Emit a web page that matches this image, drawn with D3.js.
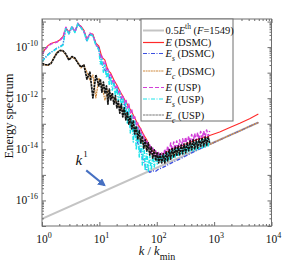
<!DOCTYPE html>
<html>
<head>
<meta charset="utf-8">
<script src="https://cdn.jsdelivr.net/npm/d3@7"></script>
<style>
  body { margin: 0; background: #fff; }
  svg text { font-family: "Liberation Serif", "Times New Roman", serif; fill: #111; }
</style>
</head>
<body>
<svg id="chart" width="301" height="266"></svg>
<script>
// k / kmin bins (DSMC, coarse)
const kBins = [1, 1.13, 1.27, 1.43, 1.62, 1.82, 2.06, 2.32, 2.61, 2.95, 3.33, 3.75, 4.23, 4.77, 5.38, 6.06, 6.84, 7.71, 8.69, 9.8,
  11.05, 12.5, 14.1, 15.8, 17.9, 20.2, 22.7, 25.6, 28.9, 32.6, 36.7, 41.4, 46.7, 52.7, 59.4, 67, 75.5, 85.2, 96.1, 108,
  122, 138, 155, 175, 198, 223, 251, 283, 319, 360, 406, 458, 516, 582, 657, 740, 835];
// DSMC goes further in k
const kTail = [1250, 1880, 2800, 4150, 5900];
const kDSMC = kBins.concat(kTail);
// USP: finer bins from k = 9.8 on
const kFine = [9.8, 10.4, 11.05, 11.75, 12.5, 13.3, 14.1, 14.9, 15.8, 16.8, 17.9, 19.0, 20.2, 21.4, 22.7, 24.1, 25.6, 27.2, 28.9, 30.7,
  32.6, 34.6, 36.7, 39.0, 41.4, 44.0, 46.7, 49.6, 52.7, 56.0, 59.4, 63.1, 67, 71.1, 75.5, 80.2, 85.2, 90.5, 96.1, 102,
  108, 115, 122, 130, 138, 146, 155, 165, 175, 186, 198, 210, 223, 237, 251, 267, 283, 300, 319, 339,
  360, 382, 406, 431, 458, 486, 516, 548, 582, 618, 657, 697, 740, 786, 835];
const kUSP = kBins.slice(0, 19).concat(kFine);

// spectra, stored as log10 of the energy
const logE_DSMC = [-10.27, -10.08, -9.94, -9.86, -9.82, -9.79, -9.71, -9.59, -9.26, -9.41,
  -9.22, -9.38, -9.10, -9.18, -9.34, -9.69, -9.49, -9.49, -9.84, -9.96,
  -10.39, -10.51, -10.90, -11.02, -11.29, -11.48, -11.72, -11.91, -12.15, -12.34,
  -12.54, -12.77, -13.01, -13.20, -13.44, -13.63, -13.87, -14.06, -14.14, -14.20,
  -14.18, -14.14, -14.10, -14.02, -13.98, -13.93, -13.89, -13.85, -13.79, -13.75,
  -13.69, -13.65, -13.61, -13.57, -13.52, -13.54, -13.46,
  -13.32, -13.15, -12.98, -12.80, -12.62];
const logEs_DSMC = [-10.55, -10.41, -10.29, -10.20, -10.12, -10.04, -9.98, -9.90, -9.26, -9.47,
  -9.22, -9.41, -9.10, -9.22, -9.39, -9.75, -9.51, -9.55, -9.90, -10.04,
  -10.66, -10.90, -11.09, -11.29, -11.45, -11.64, -11.88, -12.11, -12.34, -12.66,
  -13.01, -13.40, -13.75, -14.10, -14.49, -14.80, -14.90, -14.84, -14.86, -14.77,
  -14.73, -14.67, -14.61, -14.55, -14.49, -14.43, -14.38, -14.32, -14.26, -14.20,
  -14.14, -14.08, -14.02, -13.96, -13.91, -13.85, -13.81,
  -13.63, -13.45, -13.28, -13.10, -12.95];
const logEc_DSMC = [-10.64, -10.70, -10.72, -10.63, -10.39, -10.20, -10.12, -10.16, -10.31, -10.47,
  -10.39, -10.47, -10.59, -10.82, -10.70, -10.98, -11.29, -11.09, -11.99, -11.21,
  -11.52, -12.07, -11.68, -11.91, -11.99, -12.19, -12.34, -12.50, -12.62, -12.77,
  -12.97, -13.16, -13.40, -13.63, -13.83, -13.98, -14.10, -14.18, -14.26, -14.30,
  -14.30, -14.28, -14.26, -14.22, -14.18, -14.14, -14.10, -14.06, -14.02, -13.98,
  -13.96, -13.95, -13.93, -13.91, -13.87, -13.85, -13.81,
  -13.63, -13.45, -13.28, -13.10, -12.95];

const logE_USP = [-10.29, -10.10, -9.96, -9.88, -9.84, -9.80, -9.73, -9.61, -9.22, -9.45,
  -9.18, -9.41, -9.06, -9.22, -9.38, -9.73, -9.45, -9.53, -9.88,
  -10.08, -10.43, -10.35, -10.66, -10.55, -10.90, -10.82, -11.13, -11.02, -11.37,
  -11.25, -11.60, -11.48, -11.80, -11.68, -11.99, -11.88, -12.19, -12.03, -12.38,
  -12.23, -12.58, -12.46, -12.85, -12.73, -13.09, -12.97, -13.32, -13.20, -13.55,
  -13.44, -13.79, -13.63, -13.98, -13.83, -14.14, -13.95, -14.26, -14.06, -14.34,
  -14.12, -14.41, -14.14, -14.38, -13.98, -14.26, -13.87, -14.14, -13.75, -14.06,
  -13.71, -14.02, -13.67, -13.98, -13.63, -13.95, -13.59, -13.87, -13.52, -13.83,
  -13.48, -13.75, -13.42, -13.71, -13.38, -13.67, -13.34, -13.63, -13.30, -13.59,
  -13.28, -13.52, -13.24, -13.48, -13.28];
const logEs_USP = [-10.57, -10.43, -10.31, -10.21, -10.14, -10.04, -10.00, -9.92, -9.24, -9.49,
  -9.20, -9.43, -9.08, -9.24, -9.41, -9.77, -9.49, -9.57, -9.92,
  -10.12, -10.66, -10.47, -10.98, -10.70, -11.21, -10.94, -11.48, -11.17, -11.68,
  -11.41, -11.91, -11.60, -12.11, -11.80, -12.30, -11.99, -12.62, -12.19, -13.01,
  -12.38, -13.36, -12.66, -13.71, -12.89, -14.02, -13.16, -14.30, -13.40, -14.61,
  -13.71, -14.84, -14.02, -14.88, -14.22, -14.80, -14.26, -14.69, -14.22, -14.57,
  -14.22, -14.49, -14.22, -14.49, -14.22, -14.45, -14.14, -14.41, -14.06, -14.34,
  -14.02, -14.30, -13.98, -14.26, -13.95, -14.22, -13.91, -14.18, -13.87, -14.14,
  -13.83, -14.10, -13.79, -14.06, -13.75, -14.02, -13.71, -13.98, -13.67, -13.95,
  -13.63, -13.91, -13.59, -13.87, -13.63];
const logEc_USP = [-10.63, -10.68, -10.70, -10.64, -10.43, -10.23, -10.14, -10.14, -10.27, -10.51,
  -10.37, -10.43, -10.63, -10.78, -10.70, -11.25, -10.98, -11.99, -11.09,
  -11.52, -11.25, -11.76, -11.37, -11.80, -11.52, -12.23, -11.64, -12.07, -11.80,
  -12.23, -11.91, -12.38, -12.11, -12.58, -12.23, -12.73, -12.38, -12.85, -12.54,
  -13.01, -12.70, -13.20, -12.89, -13.40, -13.09, -13.59, -13.28, -13.75, -13.48,
  -13.95, -13.63, -14.06, -13.75, -14.22, -13.91, -14.34, -14.02, -14.45, -14.10,
  -14.53, -14.18, -14.53, -14.18, -14.53, -14.10, -14.45, -14.02, -14.38, -13.95,
  -14.30, -13.91, -14.26, -13.87, -14.22, -13.83, -14.18, -13.79, -14.14, -13.75,
  -14.06, -13.67, -14.02, -13.63, -13.98, -13.63, -13.95, -13.59, -13.91, -13.55,
  -13.87, -13.52, -13.83, -13.52, -13.75];

// 0.5 E^th, thermal noise level (F=1549), grows like k^1
const kTh = [1, 5900];
const eThHalf = [1.9e-17, 1.12e-13];

const xTickExp = [0, 1, 2, 3, 4];
const yTickExp = [-16, -14, -12, -10];

const svg = d3.select("#chart");
const x = d3.scaleLog().domain([1, 1e4]).range([42, 271.5]);
const y = d3.scaleLog().domain([1e-17, Math.pow(10, -8.9)]).range([226, 19]);

const defs = svg.append("defs");
defs.append("clipPath").attr("id", "plotclip")
  .append("rect").attr("x", 42).attr("y", 19).attr("width", 229.5).attr("height", 207);

const line = d3.line().x(d => x(d[0])).y(d => y(d[1]));

// legend order = draw order; w = width in the plot, noisy USP lines drawn a bit heavier
const series = [
  { k: kTh, e: eThHalf, color: "#c4c4c4", w: 2, lw: 2, dash: null,
    label: [["0.5", ""], ["E", "i"], ["th", "sup"], [" (", ""], ["F", "i"], ["=1549)", ""]] },
  { k: kDSMC, log: logE_DSMC, color: "#ff2a2a", w: 1.1, lw: 1.2, dash: null,
    label: [["E", "i"], [" (DSMC)", ""]] },
  { k: kDSMC, log: logEs_DSMC, color: "#3b4fe0", w: 1.3, lw: 1.2, dash: "4,1.5,1,1.5",
    label: [["E", "i"], ["s", "sub"], [" (DSMC)", ""]] },
  { k: kDSMC, log: logEc_DSMC, color: "#d08a3e", w: 1.2, lw: 1.2, dash: "2,0.6",
    label: [["E", "i"], ["c", "sub"], [" (DSMC)", ""]] },
  { k: kUSP, log: logE_USP, color: "#d23fd8", w: 1.5, lw: 1.2, dash: "4,2",
    label: [["E", "i"], [" (USP)", ""]] },
  { k: kUSP, log: logEs_USP, color: "#1fe4ea", w: 1.5, lw: 1.2, dash: "4,1.5,1,1.5",
    label: [["E", "i"], ["s", "sub"], [" (USP)", ""]] },
  { k: kUSP, log: logEc_USP, color: "#141414", w: 1.7, lw: 1.2, dash: "2.5,0.6",
    label: [["E", "i"], ["c", "sub"], [" (USP)", ""]] }
];

const plot = svg.append("g").attr("clip-path", "url(#plotclip)");
series.forEach(s => {
  const pts = s.k.map((kk, i) => [kk, s.e ? s.e[i] : Math.pow(10, s.log[i])]);
  plot.append("path")
    .attr("d", line(pts))
    .attr("fill", "none")
    .attr("stroke", s.color)
    .attr("stroke-width", s.w)
    .attr("stroke-dasharray", s.dash)
    .attr("stroke-linejoin", "round");
});

// k^1 note with arrow
const arrowColor = "#4670c2";
defs.append("marker").attr("id", "head")
  .attr("viewBox", "0 0 10 10").attr("refX", 8).attr("refY", 5)
  .attr("markerWidth", 4).attr("markerHeight", 4).attr("orient", "auto")
  .append("path").attr("d", "M0,0L10,5L0,10z").attr("fill", arrowColor);
svg.append("line")
  .attr("x1", x(5.9)).attr("y1", y(1.5e-15))
  .attr("x2", x(12.3)).attr("y2", y(3.9e-16))
  .attr("stroke", arrowColor).attr("stroke-width", 2)
  .attr("marker-end", "url(#head)");
const note = svg.append("text").attr("x", x(3.85)).attr("y", y(2.35e-15)).attr("font-size", 15);
note.append("tspan").attr("font-style", "italic").text("k");
note.append("tspan").attr("font-size", 9).attr("dy", -8).attr("dx", 1).text("1");

// ticks inside on all four sides
const isMajor = v => Math.abs(Math.log10(v) - Math.round(Math.log10(v))) < 1e-6;
const xt = x.ticks(), yt = y.ticks();
function ticks(gen, tr, vals, size) {
  svg.append("g").attr("transform", tr)
    .call(gen.tickValues(vals).tickSize(-size).tickFormat(""))
    .call(g => g.select(".domain").remove())
    .call(g => g.selectAll("line").attr("stroke", "#6e6e6e"));
}
const sides = () => [[d3.axisBottom(x), "translate(0,226)", xt], [d3.axisTop(x), "translate(0,19)", xt],
  [d3.axisLeft(y), "translate(42,0)", yt], [d3.axisRight(y), "translate(271.5,0)", yt]];
sides().forEach(([gen, tr, vals]) => ticks(gen, tr, vals.filter(v => !isMajor(v)), 2));
sides().forEach(([gen, tr, vals]) => ticks(gen, tr, vals.filter(isMajor), 4));

svg.append("rect").attr("x", 42).attr("y", 19).attr("width", 229.5).attr("height", 207)
  .attr("fill", "none").attr("stroke", "#6e6e6e").attr("stroke-width", 1);

// tick labels
xTickExp.forEach(p => {
  const t = svg.append("text").attr("x", x(Math.pow(10, p)) + 2).attr("y", 243)
    .attr("text-anchor", "middle").attr("font-size", 11.5);
  t.append("tspan").text("10");
  t.append("tspan").attr("font-size", 8).attr("dy", -5).text(p);
});
yTickExp.forEach(p => {
  const t = svg.append("text").attr("x", 38).attr("y", y(Math.pow(10, p)) + 4)
    .attr("text-anchor", "end").attr("font-size", 11.5);
  t.append("tspan").text("10");
  t.append("tspan").attr("font-size", 8).attr("dy", -5).text(p);
});

// axis titles
svg.append("text").attr("transform", "translate(13,116) rotate(-90)")
  .attr("text-anchor", "middle").attr("font-size", 12.5).text("Energy spectrum");
const xl = svg.append("text").attr("x", 157).attr("y", 255).attr("text-anchor", "middle").attr("font-size", 12.5);
xl.append("tspan").attr("font-style", "italic").text("k");
xl.append("tspan").text(" / ");
xl.append("tspan").attr("font-style", "italic").text("k");
xl.append("tspan").attr("font-size", 10).attr("dy", 5).text("min");

// legend
const legRows = [30.5, 42.5, 53.5, 71, 87.5, 99, 115];
const leg = svg.append("g");
leg.append("rect").attr("x", 141).attr("y", 19).attr("width", 92).attr("height", 102)
  .attr("fill", "#fff").attr("stroke", "#6e6e6e").attr("stroke-width", 1);
series.forEach((s, i) => {
  const ly = legRows[i];
  leg.append("line").attr("x1", 143).attr("x2", 164).attr("y1", ly).attr("y2", ly)
    .attr("stroke", i === 6 ? "#777" : s.color)
    .attr("stroke-width", s.lw)
    .attr("stroke-dasharray", s.dash);
  const t = leg.append("text").attr("x", 165.5).attr("y", ly + 3.8).attr("font-size", 10.5);
  let shift = 0;
  s.label.forEach(([txt, st]) => {
    const ts = t.append("tspan").text(txt);
    let target = 0;
    if (st === "i") ts.attr("font-style", "italic");
    if (st === "sup") { ts.attr("font-size", 7.5); target = -5; }
    if (st === "sub") { ts.attr("font-size", 7.5).attr("font-style", "italic"); target = 4; }
    if (target !== shift) { ts.attr("dy", target - shift); shift = target; }
  });
});
</script>
</body>
</html>
